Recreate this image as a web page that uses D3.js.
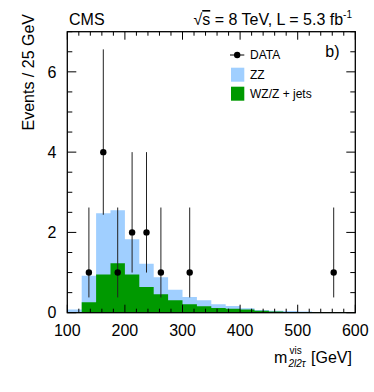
<!DOCTYPE html>
<html>
<head>
<meta charset="utf-8">
<script src="https://d3js.org/d3.v7.min.js"></script>
<style>
  body { margin: 0; background: #fff; }
  svg text { font-family: "Liberation Sans", Arial, sans-serif; fill: #000; }
</style>
</head>
<body>
<div id="chart"></div>
<script>
// bin low edges, 25 GeV wide
const binLow = [100, 125, 150, 175, 200, 225, 250, 275, 300, 325, 350, 375, 400, 425, 450, 475, 500, 525, 550, 575];
const wzJets = [0.02, 0.26, 0.95, 1.23, 0.95, 0.64, 0.46, 0.31, 0.21, 0.16, 0.12, 0.10, 0.08, 0.05, 0.03, 0.02, 0.02, 0.02, 0.02, 0.02];
const zz     = [0.06, 0.66, 1.53, 1.32, 0.88, 0.58, 0.42, 0.26, 0.18, 0.15, 0.09, 0.07, 0.03, 0.02, 0.02, 0.02, 0.01, 0.00, 0.00, 0.00];

// observed events
const dataX = [137.5, 162.5, 187.5, 212.5, 237.5, 262.5, 312.5, 562.5];
const dataY = [1, 4, 1, 2, 2, 1, 1, 1];
const errLo = [0.62, 1.56, 0.62, 1.0, 1.0, 0.62, 0.62, 0.62];
const errHi = [1.62, 2.56, 1.62, 2.0, 2.0, 1.62, 1.62, 1.62];

const xTicks = [100, 200, 300, 400, 500, 600];
const yTicks = [0, 2, 4, 6];

const W = 374, H = 392;
const margin = { top: 31.7, left: 67.3, right: 18.7, bottom: 79.3 };
const width = W - margin.left - margin.right;
const height = H - margin.top - margin.bottom;

const svg = d3.select("#chart").append("svg")
    .attr("width", W).attr("height", H);
const g = svg.append("g")
    .attr("transform", `translate(${margin.left},${margin.top})`);

const x = d3.scaleLinear().domain([100, 600]).range([0, width]);
const y = d3.scaleLinear().domain([0, 7]).range([height, 0]);

// stack backgrounds: WZ/Z+jets at bottom, ZZ on top
const rows = binLow.map((b, i) => ({ lo: b, wz: wzJets[i], zz: zz[i] }));
rows.push({ lo: 600, wz: wzJets[wzJets.length - 1], zz: zz[zz.length - 1] });
const stack = d3.stack().keys(["wz", "zz"])(rows);
const colors = { wz: "#009900", zz: "#a0cfff" };

const area = d3.area()
    .curve(d3.curveStepAfter)
    .x(d => x(d.data.lo))
    .y0(d => y(d[0]))
    .y1(d => y(d[1]));

// ZZ drawn down to zero, green on top of it
g.append("path")
    .datum(stack[1])
    .attr("fill", colors.zz)
    .attr("d", d3.area().curve(d3.curveStepAfter)
        .x(d => x(d.data.lo)).y0(y(0)).y1(d => y(d[1])));
g.append("path")
    .datum(stack[0])
    .attr("fill", colors.wz)
    .attr("d", area);

// data points with error bars
const pts = dataX.map((v, i) => ({ x: v, y: dataY[i], lo: errLo[i], hi: errHi[i] }));
g.selectAll(".err").data(pts).enter().append("line")
    .attr("x1", d => x(d.x)).attr("x2", d => x(d.x))
    .attr("y1", d => y(d.y - d.lo)).attr("y2", d => y(d.y + d.hi))
    .attr("stroke", "#222").attr("stroke-width", 1);
g.selectAll(".pt").data(pts).enter().append("circle")
    .attr("cx", d => x(d.x)).attr("cy", d => y(d.y))
    .attr("r", 3.2).attr("fill", "#000");

// frame
g.append("rect")
    .attr("width", width).attr("height", height)
    .attr("fill", "none").attr("stroke", "#000").attr("stroke-width", 1.3);

// ticks on all sides, pointing in
const xMinor = d3.range(100, 601, 20);
const yMinor = d3.range(0, 7.01, 0.5);
const tk = g.append("g").attr("stroke", "#000").attr("stroke-width", 1);
xMinor.forEach(v => {
    const len = v % 100 === 0 ? 8 : 4;
    tk.append("line").attr("x1", x(v)).attr("x2", x(v)).attr("y1", height).attr("y2", height - len);
    tk.append("line").attr("x1", x(v)).attr("x2", x(v)).attr("y1", 0).attr("y2", len);
});
yMinor.forEach(v => {
    const len = v % 2 === 0 ? 9 : 5;
    tk.append("line").attr("y1", y(v)).attr("y2", y(v)).attr("x1", 0).attr("x2", len);
    tk.append("line").attr("y1", y(v)).attr("y2", y(v)).attr("x1", width).attr("x2", width - len);
});

// tick labels
g.selectAll(".xl").data(xTicks).enter().append("text")
    .attr("x", d => x(d)).attr("y", height + 23.5)
    .attr("text-anchor", "middle").attr("font-size", 16)
    .text(d => d);
g.selectAll(".yl").data(yTicks).enter().append("text")
    .attr("x", -11).attr("y", d => y(d) + 5.8)
    .attr("text-anchor", "end").attr("font-size", 16)
    .text(d => d);

// axis titles
svg.append("text")
    .attr("transform", "translate(34,14) rotate(-90)")
    .attr("text-anchor", "end").attr("font-size", 16)
    .text("Events / 25 GeV");

const xt = svg.append("text").attr("font-size", 16);
xt.append("tspan").attr("x", 274).attr("y", 363).text("m");
xt.append("tspan").attr("x", 289.5).attr("y", 354).attr("font-size", 10).text("vis");
xt.append("tspan").attr("x", 288.5).attr("y", 367).attr("font-size", 10)
    .attr("font-style", "italic").text("2l2τ");
xt.append("tspan").attr("x", 311).attr("y", 363).text("[GeV]");

// header
svg.append("text")
    .attr("x", 69).attr("y", 25).attr("font-size", 16)
    .text("CMS");
const hd = svg.append("text")
    .attr("x", 352).attr("y", 25)
    .attr("text-anchor", "end").attr("font-size", 16);
hd.append("tspan").text("√");
hd.append("tspan").style("text-decoration", "overline").text("s");
hd.append("tspan").text(" = 8 TeV, L = 5.3 fb");
hd.append("tspan").attr("font-size", 10).attr("dy", -7).text("-1");

// panel tag
g.append("text")
    .attr("x", width - 30).attr("y", 25)
    .attr("font-size", 16).text("b)");

// legend
const lg = svg.append("g").attr("font-size", 12);
lg.append("line").attr("x1", 230).attr("x2", 244.3).attr("y1", 55).attr("y2", 55)
    .attr("stroke", "#000").attr("stroke-width", 1);
lg.append("circle").attr("cx", 237.2).attr("cy", 55).attr("r", 3.2).attr("fill", "#000");
lg.append("text").attr("x", 250).attr("y", 59.3).text("DATA");
lg.append("rect").attr("x", 231).attr("y", 67.7).attr("width", 13.3).attr("height", 14)
    .attr("fill", colors.zz);
lg.append("text").attr("x", 250).attr("y", 79.3).text("ZZ");
lg.append("rect").attr("x", 231).attr("y", 86.7).attr("width", 13.3).attr("height", 14)
    .attr("fill", colors.wz);
lg.append("text").attr("x", 250).attr("y", 98.3).text("WZ/Z + jets");
</script>
</body>
</html>
